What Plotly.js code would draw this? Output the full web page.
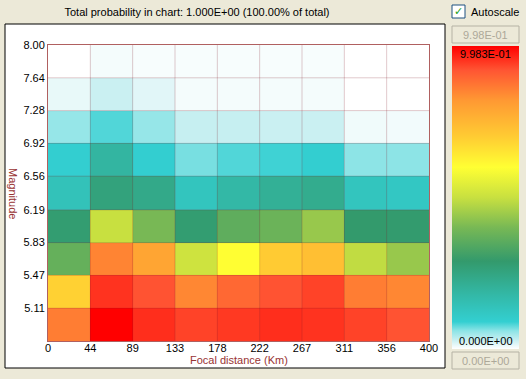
<!DOCTYPE html>
<html>
<head>
<meta charset="utf-8">
<script src="https://cdn.plot.ly/plotly-3.0.1.min.js"></script>
<style>html,body{margin:0;padding:0;background:#ece9d8;}#chart{width:526px;height:379px;}</style>
</head>
<body>
<div id="chart"></div>
<script>
// Focal distance bin edges (Km) and their labels
var distEdges = [0, 44.44, 88.89, 133.33, 177.78, 222.22, 266.67, 311.11, 355.56, 400];
var distLabels = ["0", "44", "89", "133", "178", "222", "267", "311", "356", "400"];
// Magnitude bin edges and labels
var magEdges = [4.75, 5.11, 5.47, 5.83, 6.19, 6.56, 6.92, 7.28, 7.64, 8.00];
var magTickVals = [5.11, 5.47, 5.83, 6.19, 6.56, 6.92, 7.28, 7.64, 8.00];
var magLabels = ["5.11", "5.47", "5.83", "6.19", "6.56", "6.92", "7.28", "7.64", "8.00"];
// Probability rows, bottom (4.75-5.11) to top (7.64-8.00)
var row_475 = [0.86, 0.9983, 0.955, 0.935, 0.945, 0.955, 0.95, 0.935, 0.92];
var row_511 = [0.69, 0.95, 0.92, 0.845, 0.89, 0.92, 0.935, 0.86, 0.845];
var row_547 = [0.37, 0.85, 0.79, 0.51, 0.60, 0.70, 0.73, 0.49, 0.44];
var row_583 = [0.28, 0.50, 0.40, 0.28, 0.36, 0.38, 0.44, 0.29, 0.285];
var row_619 = [0.14, 0.26, 0.235, 0.13, 0.18, 0.21, 0.225, 0.13, 0.12];
var row_656 = [0.092, 0.19, 0.092, 0.067, 0.08, 0.086, 0.092, 0.06, 0.06];
var row_692 = [0.055, 0.08, 0.055, 0.03, 0.03, 0.028, 0.028, 0.008, 0.007];
var row_728 = [0.012, 0.028, 0.016, 0.006, 0.006, 0.006, 0.006, 0, 0];
var row_764 = [0, 0.006, 0.004, 0.004, 0.004, 0.004, 0.004, 0, 0];
var zMax = 0.9983;
var titleText = "Total probability in chart: 1.000E+00 (100.00% of total)";
var xTitle = "Focal distance (Km)", yTitle = "Magnitude";
var maxLabel = "9.983E-01", minLabel = "0.000E+00";
var maxBox = "9.98E-01", minBox = "0.00E+00";

var zRows = [row_475, row_511, row_547, row_583, row_619, row_656, row_692, row_728, row_764];

var colorscale = [
  [0, '#ffffff'], [0.03, '#c6eff1'], [0.06, '#8de4e6'], [0.09, '#33cfd1'],
  [0.18, '#33b8a6'], [0.29, '#339a6c'], [0.40, '#77b855'], [0.50, '#c8e040'],
  [0.60, '#ffff33'], [0.70, '#ffcc33'], [0.82, '#ff9933'], [0.92, '#ff5533'], [1, '#ff0000']
];

var W = 526, H = 379, L = 48, R = 429, T = 45, B = 341;
function px(x) { return (x - L) / (R - L); }
function py(y) { return (B - y) / (B - T); }

var FONT = "Liberation Sans, Arial, sans-serif";

var shapes = [];
// panel box
shapes.push({type: 'rect', xref: 'paper', yref: 'paper', x0: px(5), x1: px(445), y0: py(24), y1: py(368),
  fillcolor: '#ffffff', line: {color: '#000000', width: 1}, layer: 'below'});
// grid lines over cells
var gridColor = 'rgba(130,30,40,0.24)';
for (var i = 1; i < distEdges.length - 1; i++) {
  shapes.push({type: 'line', xref: 'x', yref: 'y', x0: distEdges[i], x1: distEdges[i],
    y0: magEdges[0], y1: magEdges[magEdges.length - 1], line: {color: gridColor, width: 1}, layer: 'above'});
}
for (var j = 1; j < magEdges.length - 1; j++) {
  shapes.push({type: 'line', xref: 'x', yref: 'y', x0: distEdges[0], x1: distEdges[distEdges.length - 1],
    y0: magEdges[j], y1: magEdges[j], line: {color: gridColor, width: 1}, layer: 'above'});
}
// scale boxes
shapes.push({type: 'rect', xref: 'paper', yref: 'paper', x0: px(452), x1: px(519), y0: py(26), y1: py(43),
  fillcolor: '#ece9d8', line: {color: '#b5b2a4', width: 1}});
shapes.push({type: 'rect', xref: 'paper', yref: 'paper', x0: px(452), x1: px(519), y0: py(352), y1: py(369),
  fillcolor: '#ece9d8', line: {color: '#b5b2a4', width: 1}});
// checkbox
shapes.push({type: 'rect', xref: 'paper', yref: 'paper', x0: px(452), x1: px(465), y0: py(5), y1: py(18),
  fillcolor: '#ffffff', line: {color: '#1c5180', width: 1}});

var annotations = [
  {xref: 'paper', yref: 'paper', x: px(458.5), y: py(11.5), text: '✓', showarrow: false,
   font: {family: "DejaVu Sans", size: 11, color: '#21a121'}, xanchor: 'center', yanchor: 'middle'},
  {xref: 'paper', yref: 'paper', x: px(469), y: py(12), text: 'Autoscale', showarrow: false,
   font: {family: FONT, size: 11, color: '#000000'}, xanchor: 'left', yanchor: 'middle'},
  {xref: 'paper', yref: 'paper', x: px(485.5), y: py(35), text: maxBox, showarrow: false,
   font: {family: FONT, size: 11, color: '#aca899'}, xanchor: 'center', yanchor: 'middle'},
  {xref: 'paper', yref: 'paper', x: px(485.5), y: py(361), text: minBox, showarrow: false,
   font: {family: FONT, size: 11, color: '#aca899'}, xanchor: 'center', yanchor: 'middle'},
  {xref: 'paper', yref: 'paper', x: px(485.5), y: py(54), text: maxLabel, showarrow: false,
   font: {family: FONT, size: 11, color: '#000000'}, xanchor: 'center', yanchor: 'middle'},
  {xref: 'paper', yref: 'paper', x: px(485.5), y: py(341), text: minLabel, showarrow: false,
   font: {family: FONT, size: 11, color: '#000000'}, xanchor: 'center', yanchor: 'middle'},
  {xref: 'paper', yref: 'paper', x: 0.5, y: py(360), text: xTitle, showarrow: false,
   font: {family: FONT, size: 11, color: '#993333'}, xanchor: 'center', yanchor: 'middle'},
  {xref: 'paper', yref: 'paper', x: px(13), y: 0.5, text: yTitle, showarrow: false, textangle: 90,
   font: {family: FONT, size: 11, color: '#993333'}, xanchor: 'center', yanchor: 'middle'}
];

var trace = {
  type: 'heatmap',
  x: distEdges,
  y: magEdges,
  z: zRows,
  zmin: 0,
  zmax: zMax,
  zsmooth: false,
  colorscale: colorscale,
  hoverinfo: 'none',
  colorbar: {
    x: px(452), xanchor: 'left',
    y: py(46), yanchor: 'top',
    thickness: 67, thicknessmode: 'pixels',
    len: 303 / (B - T), lenmode: 'fraction',
    xpad: 0, ypad: 0,
    outlinewidth: 0, borderwidth: 0,
    showticklabels: false, ticks: ''
  }
};

var layout = {
  width: W, height: H,
  margin: {l: L, r: W - R, t: T, b: H - B, pad: 0, autoexpand: false},
  paper_bgcolor: '#ece9d8',
  plot_bgcolor: '#ffffff',
  font: {family: FONT, size: 11, color: '#000000'},
  title: {text: titleText, xref: 'container', yref: 'container', x: 197 / W, xanchor: 'center',
          y: 1 - 12 / H, yanchor: 'middle', font: {family: FONT, size: 11, color: '#000000'}},
  xaxis: {
    range: [distEdges[0], distEdges[distEdges.length - 1]],
    tickmode: 'array', tickvals: distEdges, ticktext: distLabels,
    showgrid: false, zeroline: false, ticks: '', ticklen: 0, ticklabelstandoff: -3,
    showline: true, linecolor: '#b06060', linewidth: 1, mirror: true, automargin: false,
    tickfont: {family: FONT, size: 11, color: '#000000'}
  },
  yaxis: {
    range: [magEdges[0], magEdges[magEdges.length - 1]],
    tickmode: 'array', tickvals: magTickVals, ticktext: magLabels,
    showgrid: false, zeroline: false, ticks: '', ticklen: 0, automargin: false,
    showline: true, linecolor: '#b06060', linewidth: 1, mirror: true,
    tickfont: {family: FONT, size: 11, color: '#000000'}
  },
  shapes: shapes,
  annotations: annotations
};

Plotly.newPlot('chart', [trace], layout, {displayModeBar: false, staticPlot: true});
</script>
</body>
</html>
